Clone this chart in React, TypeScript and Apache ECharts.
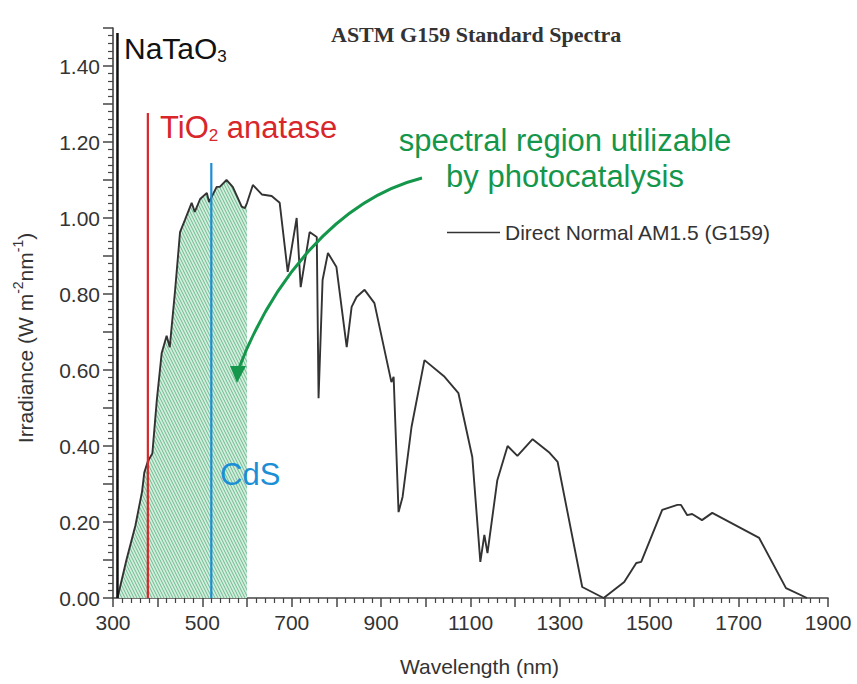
import { useEffect, useRef } from 'react';
import * as echarts from 'echarts';

// Spectrum: Direct Normal AM1.5 (G159)
const wavelengths = [
  310, 330, 350, 365, 370, 378, 388, 398, 409, 420, 427, 439, 450, 461, 476, 483, 495, 510, 515,
  532, 539, 554, 568, 588, 595, 600, 613, 633, 655, 673, 691, 711, 720, 740, 756, 760, 769, 781,
  800, 823, 834, 845, 863, 885, 923, 928, 939, 948, 968, 997, 1042, 1073, 1104, 1122, 1131, 1138,
  1160, 1183, 1205, 1239, 1277, 1295, 1350, 1398, 1444, 1471, 1482, 1529, 1563, 1571, 1585, 1596,
  1618, 1641, 1746, 1806, 1853,
];
const irradiance = [
  0.0, 0.1, 0.19, 0.28, 0.33, 0.36, 0.38, 0.52, 0.645, 0.69, 0.66, 0.81, 0.963, 0.995, 1.04, 1.016,
  1.05, 1.066, 1.042, 1.082, 1.082, 1.1, 1.082, 1.03, 1.026, 1.04, 1.087, 1.062, 1.058, 1.04, 0.858,
  1.0, 0.818, 0.963, 0.95, 0.526, 0.837, 0.908, 0.871, 0.66, 0.766, 0.792, 0.811, 0.776, 0.568,
  0.582, 0.226, 0.266, 0.45, 0.626, 0.582, 0.539, 0.371, 0.095, 0.166, 0.118, 0.31, 0.4, 0.374,
  0.418, 0.382, 0.358, 0.029, 0.0, 0.042, 0.092, 0.095, 0.232, 0.245, 0.245, 0.218, 0.221, 0.205,
  0.224, 0.158, 0.026, 0.0,
];
const seriesName = 'Direct Normal AM1.5 (G159)';

// Photocatalytically usable region upper bound (nm)
const usableLimit = 600;

// Band-edge markers
const edgeNames = ['NaTaO3', 'TiO2 anatase', 'CdS'];
const edgeWavelengths = [310, 378, 520];
const edgeTops = [1.487, 1.276, 1.145];
const edgeColors = ['#111111', '#d8262a', '#1b8fd5'];
const edgeWidths = [2.5, 2.2, 2.2];

// Tick labels
const xTickLabels = ['300', '500', '700', '900', '1100', '1300', '1500', '1700', '1900'];
const yTickLabels = ['0.00', '0.20', '0.40', '0.60', '0.80', '1.00', '1.20', '1.40'];

const FONT = 'Liberation Sans';

function makePattern(): HTMLCanvasElement {
  const c = document.createElement('canvas');
  c.width = 3;
  c.height = 6;
  const ctx = c.getContext('2d')!;
  ctx.fillStyle = '#d4eedd';
  ctx.fillRect(0, 0, 3, 6);
  ctx.strokeStyle = '#62b386';
  ctx.lineWidth = 0.9;
  ctx.beginPath();
  for (const dx of [-3, 0, 3]) {
    ctx.moveTo(dx - 1, -2);
    ctx.lineTo(dx + 4, 8);
  }
  ctx.stroke();
  return c;
}

export default function App() {
  const ref = useRef<HTMLDivElement>(null);

  useEffect(() => {
    document.body.style.margin = '0';
    if (!ref.current) return;
    const chart = echarts.init(ref.current, null, { renderer: 'svg' });

    const spectrum = wavelengths.map((w, i) => [w, irradiance[i]]);
    const usable = spectrum.filter((p) => p[0] <= usableLimit);
    const pattern = makePattern();

    const edgeSeries = edgeNames.map((n, i) => ({
      name: n,
      type: 'line',
      data: [
        [edgeWavelengths[i], 0],
        [edgeWavelengths[i], edgeTops[i]],
      ],
      symbol: 'none',
      lineStyle: { color: edgeColors[i], width: edgeWidths[i] },
      z: 4,
      silent: true,
    }));

    const green = '#14964b';
    const red = '#d8262a';
    const blue = '#1b8fd5';

    chart.setOption({
      animation: false,
      textStyle: { fontFamily: FONT },
      title: {
        text: 'ASTM G159 Standard Spectra',
        left: 326,
        top: 18,
        textStyle: {
          fontFamily: 'Liberation Serif',
          fontWeight: 'bold',
          fontSize: 22,
          color: '#333',
        },
      },
      legend: {
        data: [seriesName],
        left: 442,
        top: 217,
        icon: 'rect',
        itemWidth: 53,
        itemHeight: 1.6,
        itemStyle: { color: '#333' },
        textStyle: { fontFamily: FONT, fontSize: 21, color: '#333' },
      },
      grid: { left: 113, right: 29, top: 28, bottom: 86, outerBoundsMode: 'none' },
      xAxis: {
        type: 'value',
        min: 300,
        max: 1900,
        interval: 100,
        name: 'Wavelength (nm)',
        nameLocation: 'middle',
        nameGap: 58,
        nameTextStyle: { fontFamily: FONT, fontSize: 21, color: '#333', padding: [0, 0, 0, 18] },
        axisLine: { lineStyle: { color: '#444', width: 1.6 } },
        axisTick: { length: 9, lineStyle: { color: '#444', width: 1.5 } },
        minorTick: { show: true, splitNumber: 5, length: 5, lineStyle: { color: '#444', width: 1.2 } },
        splitLine: { show: false },
        axisLabel: {
          fontFamily: FONT,
          fontSize: 21,
          color: '#333',
          margin: 14,
          formatter: (v: number) => (xTickLabels.includes(String(v)) ? String(v) : ''),
        },
      },
      yAxis: {
        type: 'value',
        min: 0,
        max: 1.5,
        interval: 0.1,
        name: '{a|Irradiance (W m}{s|-2}{a|nm}{s|-1}{a|)}',
        nameLocation: 'middle',
        nameGap: 74,
        nameTextStyle: {
          color: '#333',
          padding: [0, 50, 0, 0],
          rich: {
            a: { fontFamily: FONT, fontSize: 21, color: '#333', lineHeight: 28 },
            s: { fontFamily: FONT, fontSize: 14, color: '#333', lineHeight: 13, verticalAlign: 'top' },
          },
        },
        axisLine: { show: true, lineStyle: { color: '#444', width: 1.6 } },
        axisTick: { show: true, length: 10, lineStyle: { color: '#444', width: 1.5 } },
        minorTick: { show: true, splitNumber: 5, length: 5, lineStyle: { color: '#444', width: 1.2 } },
        splitLine: { show: false },
        axisLabel: {
          fontFamily: FONT,
          fontSize: 21,
          color: '#333',
          margin: 13,
          formatter: (v: number) => {
            const s = v.toFixed(2);
            return yTickLabels.includes(s) ? s : '';
          },
        },
      },
      series: [
        {
          name: 'usable',
          type: 'line',
          data: usable,
          symbol: 'none',
          lineStyle: { width: 0 },
          areaStyle: { color: { image: pattern, repeat: 'repeat' }, opacity: 1 },
          z: 1,
          silent: true,
        },
        ...edgeSeries,
        {
          name: seriesName,
          type: 'line',
          data: spectrum,
          symbol: 'none',
          lineStyle: { color: '#333', width: 1.9 },
          itemStyle: { color: '#333' },
          z: 3,
        },
      ],
      graphic: [
        {
          type: 'text',
          x: 124,
          y: 48,
          z: 100,
          style: {
            text: '{a|NaTaO}{b|3}',
            verticalAlign: 'middle',
            rich: {
              a: { fontFamily: FONT, fontSize: 30, fill: '#111', lineHeight: 34 },
              b: { fontFamily: FONT, fontSize: 17, fill: '#111', lineHeight: 15, verticalAlign: 'bottom' },
            },
          },
        },
        {
          type: 'text',
          x: 160,
          y: 127,
          z: 100,
          style: {
            text: '{a|TiO}{b|2}{a| anatase}',
            verticalAlign: 'middle',
            rich: {
              a: { fontFamily: FONT, fontSize: 31, fill: red, lineHeight: 34 },
              b: { fontFamily: FONT, fontSize: 17, fill: red, lineHeight: 15, verticalAlign: 'bottom' },
            },
          },
        },
        {
          type: 'text',
          x: 220,
          y: 474,
          z: 100,
          style: {
            text: 'CdS',
            fontFamily: FONT,
            fontSize: 31,
            fill: blue,
            verticalAlign: 'middle',
          },
        },
        {
          type: 'text',
          x: 565,
          y: 158,
          z: 100,
          style: {
            text: 'spectral region utilizable\nby photocatalysis',
            fontFamily: FONT,
            fontSize: 31,
            lineHeight: 36,
            fill: green,
            align: 'center',
            verticalAlign: 'middle',
          },
        },
        {
          type: 'bezierCurve',
          z: 100,
          shape: { x1: 422, y1: 178, cpx1: 335, cpy1: 200, cpx2: 271, cpy2: 284, x2: 239, y2: 368 },
          style: { stroke: green, lineWidth: 3, fill: null },
        },
        {
          type: 'polygon',
          z: 100,
          shape: { points: [[230, 366], [246, 366], [237, 383]] },
          style: { fill: green },
        },
      ],
    });

    return () => chart.dispose();
  }, []);

  return <div ref={ref} style={{ width: 857, height: 684 }} />;
}
